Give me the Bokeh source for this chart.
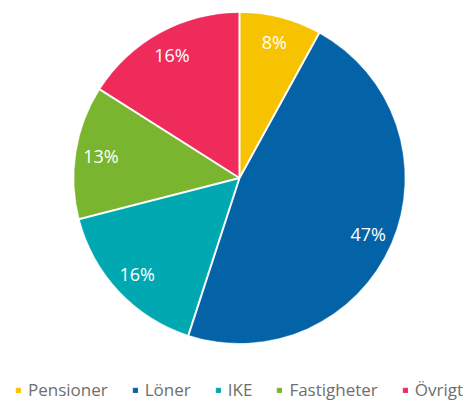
import numpy as np
from bokeh.plotting import figure
from bokeh.models import ColumnDataSource, Range1d, Legend, LegendItem
from bokeh.embed import file_html
from bokeh.resources import INLINE
from bokeh.core.properties import value

categories = ["Pensioner", "Löner", "IKE", "Fastigheter", "Övrigt"]
shares = [8, 47, 16, 13, 16]
labels = ["8%", "47%", "16%", "13%", "16%"]
colors = ["#F7C200", "#0462A6", "#00A9B1", "#79B52E", "#EF2B5C"]

W, H = 475, 401
cx, cy, R = 239, 223.5, 165

vals = np.array(shares, dtype=float)
frac = vals / vals.sum()
cum = np.concatenate([[0], np.cumsum(frac)])
# clockwise from top
start = np.pi / 2 - cum[1:] * 2 * np.pi
end = np.pi / 2 - cum[:-1] * 2 * np.pi
mid = (start + end) / 2
lr = 0.85 * R

src = ColumnDataSource(dict(
    cat=categories, start=start, end=end, color=colors, label=labels,
    lx=cx + lr * np.cos(mid), ly=cy + lr * np.sin(mid),
    ex=cx + (R + 1) * np.cos(end), ey=cy + (R + 1) * np.sin(end),
))

p = figure(width=W, height=H, output_backend="svg", toolbar_location=None,
           x_range=Range1d(0, W), y_range=Range1d(0, H), min_border=0,
           match_aspect=False)
p.axis.visible = False
p.grid.visible = False
p.outline_line_color = None
p.background_fill_color = "white"

r = p.wedge(x=cx, y=cy, radius=R, start_angle="start", end_angle="end",
            fill_color="color", line_color="color", line_width=0.5, source=src)
p.segment(x0=cx, y0=cy, x1="ex", y1="ey", line_color="white", line_width=2,
          source=src)

p.text(x="lx", y="ly", text="label", source=src, text_color="white",
       text_align="center", text_baseline="middle", text_font=value("Open Sans"),
       text_font_size="18px")

items = [LegendItem(label=c, renderers=[r], index=i) for i, c in enumerate(categories)]
legend = Legend(items=items, orientation="horizontal", location=(15, 0),
                glyph_width=6, glyph_height=6, label_standoff=7, spacing=24,
                padding=0, margin=0, border_line_color=None,
                background_fill_alpha=0, label_text_font="Open Sans",
                label_text_font_size="17px", label_text_color="#6e6e6e",
                label_height=18, label_text_baseline="middle")
p.add_layout(legend)

open("out.html", "w").write(file_html(p, INLINE))
